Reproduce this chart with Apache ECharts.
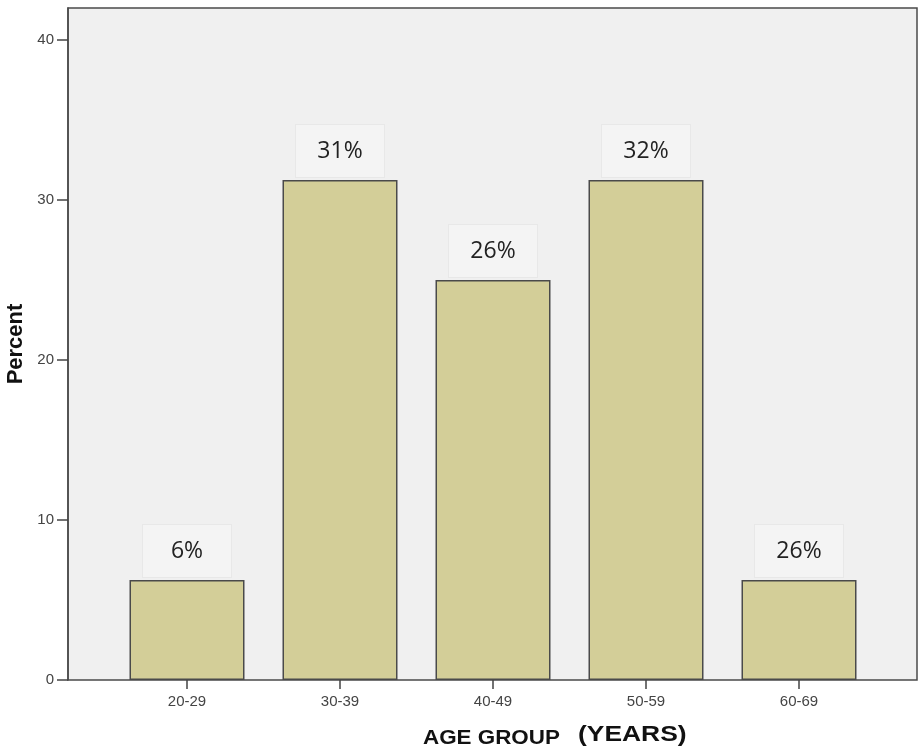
<!DOCTYPE html>
<html>
<head>
<meta charset="utf-8">
<script src="https://cdn.jsdelivr.net/npm/echarts@6/dist/echarts.min.js"></script>
<style>
html,body{margin:0;padding:0;background:#fff;}
#chart{width:922px;height:753px;}
</style>
</head>
<body>
<div id="chart"></div>
<script>
const categories = ['20-29', '30-39', '40-49', '50-59', '60-69'];
const percentValues = [6.25, 31.25, 25, 31.25, 6.25];
const barLabels = ['6%', '31%', '26%', '32%', '26%'];
const yTicks = [0, 10, 20, 30, 40];

const chart = echarts.init(document.getElementById('chart'));
const axisFont = 'Liberation Sans, Arial, sans-serif';
chart.setOption({
  animation: false,
  backgroundColor: '#ffffff',
  grid: [
    { left: 68, top: 8, right: 5, bottom: 73, containLabel: false, outerBoundsMode: 'none', show: true, backgroundColor: '#f0f0f0', borderColor: '#4a4a4a', borderWidth: 1.5 },
    { left: 110.5, top: 8, width: 765, bottom: 73, containLabel: false, outerBoundsMode: 'none' }
  ],
  xAxis: [
    { type: 'value', gridIndex: 0, min: 0, max: 1, show: false },
    {
      type: 'category', gridIndex: 1, data: categories,
      axisLine: { show: false },
      axisTick: { show: true, alignWithLabel: true, length: 9, lineStyle: { color: '#444', width: 1.5 } },
      axisLabel: { color: '#444', fontSize: 15, fontFamily: axisFont, margin: 14 },
      splitLine: { show: false }
    }
  ],
  yAxis: [
    {
      type: 'value', gridIndex: 0, min: 0, max: 42,
      axisLine: { show: true, lineStyle: { color: '#4a4a4a', width: 1.5 } },
      axisTick: { show: true, length: 11, customValues: yTicks, lineStyle: { color: '#444', width: 1.5 } },
      axisLabel: { color: '#444', fontSize: 15, fontFamily: axisFont, margin: 14, customValues: yTicks },
      splitLine: { show: false },
      name: 'Percent', nameLocation: 'middle', nameRotate: 90, nameGap: 41, nameMoveOverlap: false,
      nameTextStyle: { fontWeight: 'bold', fontSize: 22, color: '#111', fontFamily: axisFont }
    },
    { type: 'value', gridIndex: 1, min: 0, max: 42, show: false }
  ],
  series: [{
    type: 'bar',
    xAxisIndex: 1, yAxisIndex: 1,
    data: percentValues,
    barWidth: 115,
    itemStyle: { color: '#d3ce98', borderColor: '#4a4a4a', borderWidth: 1.5 },
    label: {
      show: true, position: 'top', distance: 3,
      formatter: p => barLabels[p.dataIndex],
      fontSize: 23, lineHeight: 26, color: '#222', fontFamily: 'Open Sans, sans-serif',
      backgroundColor: '#f4f4f4', borderColor: '#e8e8e8', borderWidth: 1,
      width: 40, align: 'center', padding: [13, 24]
    }
  }],
  graphic: [
    { type: 'text', x: 423, y: 728, scaleX: 1.12, style: { text: 'AGE GROUP', font: 'bold 20px Liberation Sans, Arial, sans-serif', fill: '#111' } },
    { type: 'text', x: 578, y: 724, scaleX: 1.2, style: { text: '(YEARS)', font: 'bold 22px Liberation Sans, Arial, sans-serif', fill: '#111' } }
  ]
});
</script>
</body>
</html>
